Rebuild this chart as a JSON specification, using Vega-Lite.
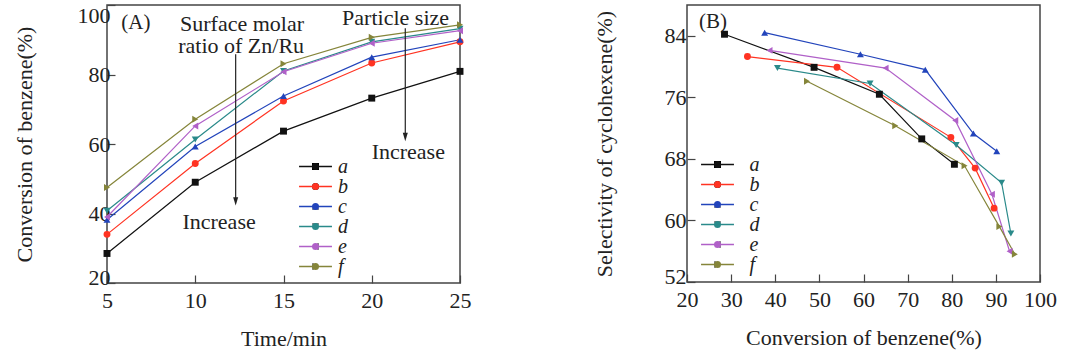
{
  "$schema": "https://vega.github.io/schema/vega-lite/v6.json",
  "padding": {"left": 12, "top": 3, "right": 5, "bottom": 0},
  "background": "white",
  "spacing": 120,
  "config": {
    "font": "Liberation Serif, Times New Roman, Times, serif",
    "view": {"stroke": "#444", "strokeWidth": 1.5},
    "axis": {
      "labelFont": "Liberation Serif, Times New Roman, Times, serif", "titleFont": "Liberation Serif, Times New Roman, Times, serif",
      "labelFontSize": 22, "titleFontSize": 22, "titleFontWeight": "normal",
      "labelColor": "#222", "titleColor": "#222",
      "domain": false, "grid": false,
      "tickColor": "#444", "tickWidth": 1.2, "tickSize": -8
    },
    "legend": {
      "labelFont": "Liberation Serif, Times New Roman, Times, serif", "labelFontSize": 20, "labelFontStyle": "italic",
      "labelColor": "#222", "rowPadding": 0, "padding": 0
    }
  },
  "datasets": {
    "A": [
      {"s": "a", "t": 5, "conv": 28.5}, {"s": "a", "t": 10, "conv": 49}, {"s": "a", "t": 15, "conv": 63.7}, {"s": "a", "t": 20, "conv": 73.2}, {"s": "a", "t": 25, "conv": 80.9},
      {"s": "b", "t": 5, "conv": 34}, {"s": "b", "t": 10, "conv": 54.4}, {"s": "b", "t": 15, "conv": 72.4}, {"s": "b", "t": 20, "conv": 83.3}, {"s": "b", "t": 25, "conv": 89.4},
      {"s": "c", "t": 5, "conv": 38.2}, {"s": "c", "t": 10, "conv": 59.3}, {"s": "c", "t": 15, "conv": 73.8}, {"s": "c", "t": 20, "conv": 85}, {"s": "c", "t": 25, "conv": 90},
      {"s": "d", "t": 5, "conv": 40.8}, {"s": "d", "t": 10, "conv": 61.3}, {"s": "d", "t": 15, "conv": 81}, {"s": "d", "t": 20, "conv": 89.4}, {"s": "d", "t": 25, "conv": 93.2},
      {"s": "e", "t": 5, "conv": 39}, {"s": "e", "t": 10, "conv": 65.2}, {"s": "e", "t": 15, "conv": 80.8}, {"s": "e", "t": 20, "conv": 89}, {"s": "e", "t": 25, "conv": 92.6},
      {"s": "f", "t": 5, "conv": 47.5}, {"s": "f", "t": 10, "conv": 67.1}, {"s": "f", "t": 15, "conv": 83.1}, {"s": "f", "t": 20, "conv": 90.7}, {"s": "f", "t": 25, "conv": 94.3}
    ],
    "B": [
      {"s": "a", "conv": 28.5, "sel": 84.2}, {"s": "a", "conv": 48.8, "sel": 79.9}, {"s": "a", "conv": 63.6, "sel": 76.4}, {"s": "a", "conv": 73.2, "sel": 70.6}, {"s": "a", "conv": 80.6, "sel": 67.3},
      {"s": "b", "conv": 33.7, "sel": 81.3}, {"s": "b", "conv": 54, "sel": 79.9}, {"s": "b", "conv": 79.8, "sel": 70.8}, {"s": "b", "conv": 85.3, "sel": 66.8}, {"s": "b", "conv": 89.6, "sel": 61.6},
      {"s": "c", "conv": 37.6, "sel": 84.4}, {"s": "c", "conv": 59.3, "sel": 81.6}, {"s": "c", "conv": 74, "sel": 79.6}, {"s": "c", "conv": 84.9, "sel": 71.3}, {"s": "c", "conv": 90.2, "sel": 69},
      {"s": "d", "conv": 40.5, "sel": 79.8}, {"s": "d", "conv": 61.5, "sel": 77.8}, {"s": "d", "conv": 81, "sel": 69.8}, {"s": "d", "conv": 91.3, "sel": 64.9}, {"s": "d", "conv": 93.4, "sel": 58.3},
      {"s": "e", "conv": 38.7, "sel": 82.1}, {"s": "e", "conv": 65, "sel": 79.8}, {"s": "e", "conv": 80.8, "sel": 73}, {"s": "e", "conv": 89.1, "sel": 63.4}, {"s": "e", "conv": 93.1, "sel": 56},
      {"s": "f", "conv": 47.2, "sel": 78.1}, {"s": "f", "conv": 67.2, "sel": 72.3}, {"s": "f", "conv": 82.9, "sel": 67.1}, {"s": "f", "conv": 90.8, "sel": 59.2}, {"s": "f", "conv": 94.3, "sel": 55.6}
    ]
  },
  "resolve": {"scale": {"color": "independent", "shape": "independent"}, "legend": {"color": "independent", "shape": "independent"}},
  "hconcat": [
    {
      "width": 353, "height": 278,
      "resolve": {"legend": {"color": "independent"}},
      "layer": [
        {
          "data": {"name": "A"},
          "mark": {"type": "line", "strokeWidth": 1.2},
          "encoding": {
            "x": {"field": "t", "type": "quantitative", "scale": {"domain": [5, 25], "nice": false, "zero": false}, "axis": {"values": [5, 10, 15, 20, 25], "title": "Time/min", "labelPadding": 15, "titlePadding": 17, "labelFlush": false}},
            "y": {"field": "conv", "type": "quantitative", "scale": {"domain": [20, 100], "nice": false, "zero": false}, "axis": {"values": [20, 40, 60, 80, 100], "title": "Conversion of benzene(%)", "labelPadding": 5, "titlePadding": 41, "labelFlush": true, "labelOffset": {"condition": {"test": "datum.value == 20", "value": 6}, "value": 0}}},
            "color": {"field": "s", "type": "nominal", "scale": {"domain": ["a", "b", "c", "d", "e", "f"], "range": ["#111111", "#ff3322", "#2244bb", "#2a8a8a", "#b060c8", "#85853a"]},
              "legend": {"title": null, "orient": "none", "legendX": 198.5, "legendY": 151.5, "symbolSize": 49, "labelOffset": 12.5, "symbolType": "M-4.7,0H4.7", "symbolStrokeWidth": 1.3}}
          }
        },
        {
          "data": {"name": "A"},
          "mark": {"type": "point", "filled": true, "opacity": 1, "size": 48},
          "encoding": {
            "x": {"field": "t", "type": "quantitative"},
            "y": {"field": "conv", "type": "quantitative"},
            "color": {"field": "s", "type": "nominal", "scale": {"domain": ["a", "b", "c", "d", "e", "f"], "range": ["#111111", "#ff3322", "#2244bb", "#2a8a8a", "#b060c8", "#85853a"]},
              "legend": {"title": null, "orient": "none", "legendX": 198.5, "legendY": 151.5, "symbolSize": 49, "labelOffset": 12.5, "labelOpacity": 0}},
            "shape": {"field": "s", "type": "nominal", "scale": {"domain": ["a", "b", "c", "d", "e", "f"], "range": ["square", "circle", "triangle-up", "triangle-down", "triangle-left", "triangle-right"]},
              "legend": {"title": null, "orient": "none", "legendX": 198.5, "legendY": 151.5, "symbolSize": 49, "labelOffset": 12.5, "labelOpacity": 0}}
          }
        },
        {
          "data": {"values": [{"label": "(A)"}]},
          "mark": {"type": "text", "fontSize": 21, "color": "#222"},
          "encoding": {"text": {"field": "label"}, "x": {"datum": 6.64}, "y": {"datum": 94.8}}
        },
        {
          "data": {"values": [{"label": "Surface molar"}]},
          "mark": {"type": "text", "fontSize": 22, "color": "#222"},
          "encoding": {"text": {"field": "label"}, "x": {"datum": 12.65}, "y": {"datum": 94.5}}
        },
        {
          "data": {"values": [{"label": "ratio of Zn/Ru"}]},
          "mark": {"type": "text", "fontSize": 22, "color": "#222"},
          "encoding": {"text": {"field": "label"}, "x": {"datum": 12.6}, "y": {"datum": 88.2}}
        },
        {
          "data": {"values": [{"label": "Increase"}]},
          "mark": {"type": "text", "fontSize": 22, "color": "#222"},
          "encoding": {"text": {"field": "label"}, "x": {"datum": 11.35}, "y": {"datum": 37.6}}
        },
        {
          "data": {"values": [{"label": "Particle size"}]},
          "mark": {"type": "text", "fontSize": 22, "color": "#222"},
          "encoding": {"text": {"field": "label"}, "x": {"datum": 21.35}, "y": {"datum": 96.2}}
        },
        {
          "data": {"values": [{"label": "Increase"}]},
          "mark": {"type": "text", "fontSize": 22, "color": "#222"},
          "encoding": {"text": {"field": "label"}, "x": {"datum": 22.07}, "y": {"datum": 57.6}}
        },
        {
          "data": {"values": [{}]},
          "mark": {"type": "rule", "color": "#222", "strokeWidth": 1.2},
          "encoding": {"x": {"datum": 12.29}, "y": {"datum": 85.8}, "y2": {"datum": 44}}
        },
        {
          "data": {"values": [{}]},
          "mark": {"type": "rule", "color": "#222", "strokeWidth": 1.2},
          "encoding": {"x": {"datum": 21.9}, "y": {"datum": 93.3}, "y2": {"datum": 62.5}}
        },
        {
          "data": {"values": [{}]},
          "mark": {"type": "point", "shape": "M-0.6,-1L0.6,-1L0,1Z", "filled": true, "color": "#222", "opacity": 1, "size": 70},
          "encoding": {"x": {"datum": 12.29}, "y": {"datum": 43.5}}
        },
        {
          "data": {"values": [{}]},
          "mark": {"type": "point", "shape": "M-0.6,-1L0.6,-1L0,1Z", "filled": true, "color": "#222", "opacity": 1, "size": 70},
          "encoding": {"x": {"datum": 21.9}, "y": {"datum": 62}}
        }
      ]
    },
    {
      "width": 353, "height": 277,
      "resolve": {"legend": {"color": "independent"}},
      "layer": [
        {
          "data": {"name": "B"},
          "mark": {"type": "line", "strokeWidth": 1.2},
          "encoding": {
            "x": {"field": "conv", "type": "quantitative", "scale": {"domain": [20, 100], "nice": false, "zero": false}, "axis": {"values": [20, 30, 40, 50, 60, 70, 80, 90, 100], "title": "Conversion of benzene(%)", "labelPadding": 15, "titlePadding": 17, "labelFlush": false}},
            "y": {"field": "sel", "type": "quantitative", "scale": {"domain": [52, 88], "nice": false, "zero": false}, "axis": {"values": [52, 60, 68, 76, 84], "title": "Selectivity of cyclohexene(%)", "labelPadding": 9, "titlePadding": 48, "labelFlush": true, "labelOffset": {"condition": {"test": "datum.value == 52", "value": 6}, "value": 0}}},
            "color": {"field": "s", "type": "nominal", "scale": {"domain": ["a", "b", "c", "d", "e", "f"], "range": ["#111111", "#ff3322", "#2244bb", "#2a8a8a", "#b060c8", "#85853a"]},
              "legend": {"title": null, "orient": "none", "legendX": 20.5, "legendY": 149.5, "symbolSize": 49, "labelOffset": 22, "symbolType": "M-4.7,0H4.7", "symbolStrokeWidth": 1.3}}
          }
        },
        {
          "data": {"name": "B"},
          "mark": {"type": "point", "filled": true, "opacity": 1, "size": 48},
          "encoding": {
            "x": {"field": "conv", "type": "quantitative"},
            "y": {"field": "sel", "type": "quantitative"},
            "color": {"field": "s", "type": "nominal", "scale": {"domain": ["a", "b", "c", "d", "e", "f"], "range": ["#111111", "#ff3322", "#2244bb", "#2a8a8a", "#b060c8", "#85853a"]},
              "legend": {"title": null, "orient": "none", "legendX": 20.5, "legendY": 149.5, "symbolSize": 49, "labelOffset": 22, "labelOpacity": 0}},
            "shape": {"field": "s", "type": "nominal", "scale": {"domain": ["a", "b", "c", "d", "e", "f"], "range": ["square", "circle", "triangle-up", "triangle-down", "triangle-left", "triangle-right"]},
              "legend": {"title": null, "orient": "none", "legendX": 20.5, "legendY": 149.5, "symbolSize": 49, "labelOffset": 22, "labelOpacity": 0}}
          }
        },
        {
          "data": {"values": [{"label": "(B)"}]},
          "mark": {"type": "text", "fontSize": 21, "color": "#222"},
          "encoding": {"text": {"field": "label"}, "x": {"datum": 25.9}, "y": {"datum": 85.75}}
        }
      ]
    }
  ]
}
